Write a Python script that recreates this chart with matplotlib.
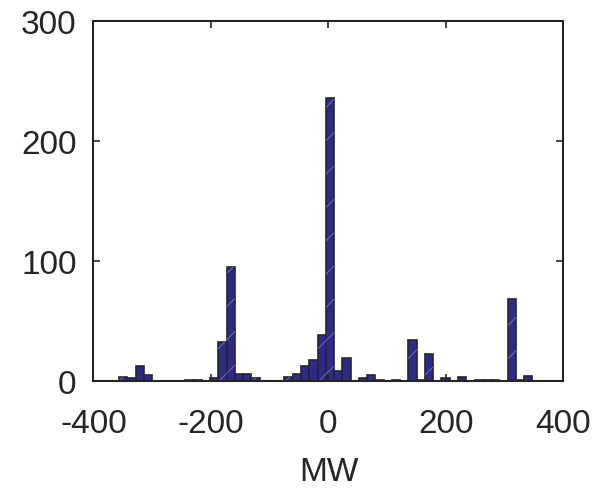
import numpy as np
import matplotlib.pyplot as plt

# histogram: 50 bins between min and max of the data
x_min = -356.1
x_max = 347.1
counts = [3, 2, 12, 5, 0, 0, 0, 0, 1, 1,
          0, 2, 32, 95, 6, 6, 2, 0, 0, 0,
          3, 6, 12, 17, 38, 236, 8, 19, 0, 2,
          5, 1, 0, 1, 0, 34, 1, 22, 0, 2,
          0, 3, 0, 1, 1, 1, 0, 68, 1, 4]

x_ticks = [-400, -200, 0, 200, 400]
y_ticks = [0, 100, 200, 300]

plt.rcParams['font.family'] = ['Liberation Sans', 'DejaVu Sans']
plt.rcParams['axes.unicode_minus'] = False
plt.rcParams['hatch.linewidth'] = 0.6

edges = np.linspace(x_min, x_max, len(counts) + 1)
width = edges[1] - edges[0]

fig = plt.figure(figsize=(5.95, 4.89), dpi=100)
ax = fig.add_axes([0.157, 0.2194, 0.79, 0.7362])

#bars, then a sparse light hatch over them
ax.bar(edges[:-1], counts, width=width, align='edge',
       color='#2e2a8c', edgecolor='#262626', linewidth=1.2)
ax.bar(edges[:-1], counts, width=width, align='edge',
       facecolor='none', edgecolor='#7b78c8', linewidth=0, hatch='/')

ax.set_xlim(-400, 400)
ax.set_ylim(0, 300)
ax.set_xticks(x_ticks)
ax.set_yticks(y_ticks)
ax.set_xlabel('MW', fontsize=24, color='#262626', labelpad=12)
ax.tick_params(direction='in', length=5, width=1.2, labelsize=24,
               colors='#262626', top=True, right=True)
ax.tick_params(axis='x', pad=20)
ax.tick_params(axis='y', pad=12)
for s in ax.spines.values():
    s.set_linewidth(1.5)
    s.set_color('#262626')

fig.savefig('out.png', dpi=100)
